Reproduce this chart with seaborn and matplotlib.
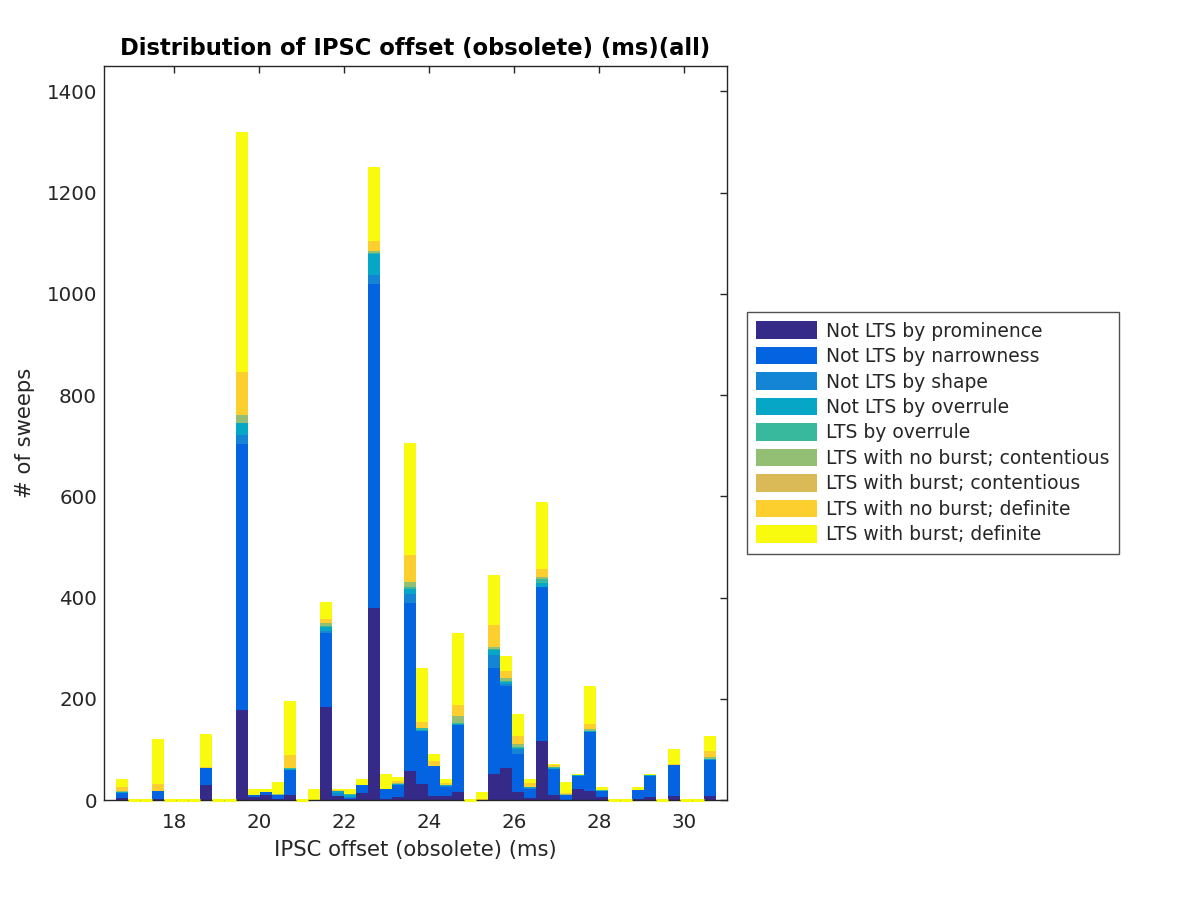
import numpy as np
import pandas as pd
import matplotlib
matplotlib.use("Agg")
import matplotlib.pyplot as plt
from matplotlib.patches import Patch
import seaborn as sns

# Histogram bins (ms)
bin_start = 16.635
bin_width = 0.2824
n_bins = 50

categories = ["Not LTS by prominence", "Not LTS by narrowness", "Not LTS by shape",
              "Not LTS by overrule", "LTS by overrule", "LTS with no burst; contentious",
              "LTS with burst; contentious", "LTS with no burst; definite",
              "LTS with burst; definite"]
colors = ["#352A87", "#0363E1", "#1485D4", "#06A7C6", "#38B99E",
          "#92BF73", "#D9BA56", "#FCCE2E", "#F9FB0E"]


def fill(d):
    out = [0] * n_bins
    for k, v in d.items():
        out[k] = v
    return out


# counts per bin for each category (bin index: count)
prominence = fill({0: 4, 3: 2, 7: 29, 10: 178, 11: 7, 12: 10, 13: 2, 14: 10, 17: 184,
                   18: 8, 19: 2, 20: 14, 21: 380, 22: 2, 23: 6, 24: 58, 25: 32, 26: 8,
                   27: 8, 28: 16, 31: 51, 32: 63, 33: 16, 34: 5, 35: 117, 36: 10, 37: 1,
                   38: 21, 39: 17, 40: 6, 43: 3, 44: 7, 46: 8, 49: 8})
narrowness = fill({0: 11, 3: 16, 7: 34, 10: 525, 11: 3, 12: 6, 13: 8, 14: 49, 17: 146,
                   19: 3, 20: 15, 21: 640, 22: 20, 23: 24, 24: 331, 25: 104, 26: 59,
                   27: 17, 28: 132, 31: 210, 32: 163, 33: 75, 34: 16, 35: 303, 36: 51,
                   37: 9, 38: 27, 39: 117, 40: 12, 43: 17, 44: 40, 46: 61, 49: 71})
shape = fill({10: 19, 17: 4, 18: 6, 19: 2, 21: 18, 24: 18, 27: 2, 31: 25, 32: 4,
              33: 10, 34: 2})
not_overrule = fill({0: 1, 10: 22, 14: 2, 17: 8, 18: 3, 19: 3, 21: 40, 23: 2, 24: 10,
                     25: 3, 27: 2, 28: 3, 31: 10, 32: 3, 33: 2, 34: 2, 35: 9, 36: 3,
                     38: 1, 39: 2, 44: 2, 49: 2})
lts_overrule = fill({14: 2, 17: 2, 18: 1, 19: 2, 21: 3, 24: 4, 25: 3, 28: 1, 31: 2,
                     32: 2, 33: 2, 35: 8, 36: 1, 40: 2})
nb_contentious = fill({0: 2, 10: 16, 13: 2, 17: 6, 21: 3, 23: 2, 24: 10, 28: 14, 31: 4,
                       32: 6, 33: 5, 35: 4, 37: 2, 39: 4, 49: 4})
b_contentious = fill({})
nb_definite = fill({0: 8, 3: 14, 7: 2, 10: 85, 14: 26, 17: 8, 18: 2, 21: 21, 23: 4,
                    24: 53, 25: 12, 26: 10, 27: 4, 28: 22, 30: 3, 31: 44, 32: 14,
                    33: 16, 34: 8, 35: 16, 36: 4, 37: 2, 39: 10, 46: 3, 49: 12})
b_definite = fill({0: 15, 3: 89, 7: 65, 10: 475, 11: 12, 12: 6, 13: 24, 14: 106, 16: 21,
                   17: 34, 18: 2, 19: 10, 20: 12, 21: 145, 22: 29, 23: 7, 24: 222,
                   25: 107, 26: 14, 27: 8, 28: 142, 30: 13, 31: 99, 32: 30, 33: 44,
                   34: 8, 35: 132, 36: 2, 37: 22, 38: 2, 39: 75, 40: 5, 43: 5, 44: 2,
                   46: 28, 49: 29})

series = [prominence, narrowness, shape, not_overrule, lts_overrule,
          nb_contentious, b_contentious, nb_definite, b_definite]

edges = [bin_start + bin_width * i for i in range(n_bins + 1)]
centers = np.array([(edges[i] + edges[i + 1]) / 2 for i in range(n_bins)])

rows = []
for cat, vals in zip(categories, series):
    for c, v in zip(centers, vals):
        rows.append({"offset": c, "category": cat, "count": v})
df = pd.DataFrame(rows)

sns.set_theme(style="white")
plt.rcParams["font.family"] = ["DejaVu Sans"]

fig = plt.figure(figsize=(12, 9), dpi=100)
ax = fig.add_axes([0.0867, 0.111, 0.519, 0.8157])

sns.histplot(data=df, x="offset", weights="count", hue="category",
             hue_order=categories[::-1], palette=dict(zip(categories, colors)),
             multiple="stack", bins=edges, linewidth=0, alpha=1, legend=False, ax=ax)

# zero-count bins show a thin yellow baseline
totals = np.sum(series, axis=0)
zero = totals == 0
ax.bar(centers[zero], np.zeros(zero.sum()), width=bin_width, color=colors[-1],
       edgecolor=colors[-1], linewidth=2.2, clip_on=False, zorder=5)

ax.set_xlim(16.35, 31.0)
ax.set_ylim(0, 1450)
ax.set_xticks([18, 20, 22, 24, 26, 28, 30])
ax.set_yticks(range(0, 1401, 200))
ax.tick_params(direction="in", top=True, right=True, length=5, width=1,
               labelsize=14.3, colors="#262626", labelcolor="#262626", pad=5)
ax.tick_params(axis="x", pad=9)
for s in ax.spines.values():
    s.set_visible(True)
    s.set_color("#262626")
    s.set_linewidth(1)

ax.set_title("Distribution of IPSC offset (obsolete) (ms)(all)", fontsize=16.3,
             fontweight="bold", color="black", pad=8)
ax.set_xlabel("IPSC offset (obsolete) (ms)", fontsize=15.2, color="#262626", labelpad=6)
ax.set_ylabel("# of sweeps", fontsize=15.2, color="#262626", labelpad=8)

handles = [Patch(facecolor=c, edgecolor="none", label=l) for c, l in zip(colors, categories)]
leg = fig.legend(handles=handles, loc="center left", bbox_to_anchor=(0.6225, 0.519),
                 fontsize=13.5, frameon=True, fancybox=False, handlelength=3.25,
                 handleheight=1.05, labelspacing=0.34, handletextpad=0.45,
                 borderpad=0.5, borderaxespad=0)
leg.get_frame().set_edgecolor("#262626")
leg.get_frame().set_linewidth(1)

fig.savefig("out.png", dpi=100, facecolor="white")
